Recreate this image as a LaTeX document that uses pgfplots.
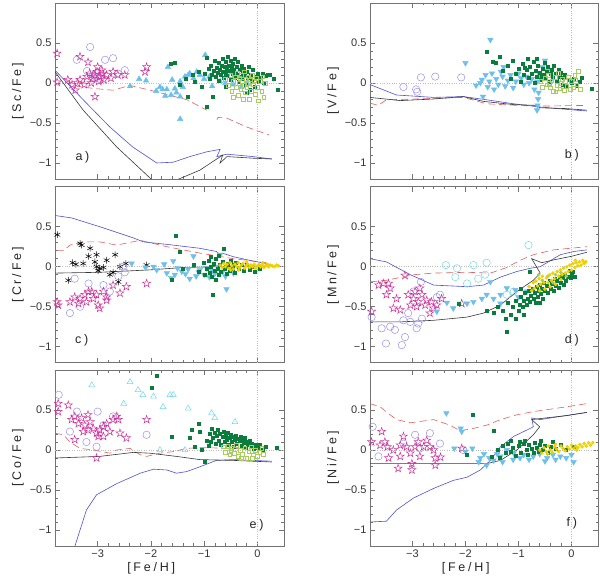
\documentclass[border=0pt]{standalone}
\usepackage{pgfplots}
\pgfplotsset{compat=1.18}
\usepackage{fontspec}
\setmainfont{Liberation Sans}
\newfontfamily\labfont[LetterSpace=22]{Liberation Sans}
\definecolor{magstar}{HTML}{CC3399}
\definecolor{lav}{HTML}{9B8FEA}
\definecolor{lblue}{HTML}{6EC0EA}
\definecolor{dgreen}{HTML}{0A7D3C}
\definecolor{lgreen}{HTML}{A8CB62}
\definecolor{yel}{HTML}{EED200}
\definecolor{cyanc}{HTML}{70D8EA}
\definecolor{redl}{HTML}{E06060}
\definecolor{bluel}{HTML}{5050D8}
\definecolor{blackl}{HTML}{383838}
\pgfdeclareplotmark{ostar}{%
 \pgfpathmoveto{\pgfqpoint{0pt}{\pgfplotmarksize}}%
 \pgfpathlineto{\pgfpoint{-0.225\pgfplotmarksize}{0.309\pgfplotmarksize}}%
 \pgfpathlineto{\pgfpoint{-0.951\pgfplotmarksize}{0.309\pgfplotmarksize}}%
 \pgfpathlineto{\pgfpoint{-0.363\pgfplotmarksize}{-0.118\pgfplotmarksize}}%
 \pgfpathlineto{\pgfpoint{-0.588\pgfplotmarksize}{-0.809\pgfplotmarksize}}%
 \pgfpathlineto{\pgfpoint{0pt}{-0.382\pgfplotmarksize}}%
 \pgfpathlineto{\pgfpoint{0.588\pgfplotmarksize}{-0.809\pgfplotmarksize}}%
 \pgfpathlineto{\pgfpoint{0.363\pgfplotmarksize}{-0.118\pgfplotmarksize}}%
 \pgfpathlineto{\pgfpoint{0.951\pgfplotmarksize}{0.309\pgfplotmarksize}}%
 \pgfpathlineto{\pgfpoint{0.225\pgfplotmarksize}{0.309\pgfplotmarksize}}%
 \pgfpathclose
 \pgfusepathqstroke}
\pgfplotsset{
 panel/.style={
  scale only axis, width=229pt, height=176pt,
  xmin=-3.8, xmax=0.5, ymin=-1.2, ymax=1.0,
  xtick={-3,-2,-1,0}, ytick={-1,-0.5,0,0.5},
  yticklabels={−1,−0.5,0,0.5},
  minor x tick num=4, minor y tick num=4,
  tick align=inside, major tick length=5pt, minor tick length=2.5pt,
  axis line style={black!55}, tick style={black!55, line width=0.5pt},
  tick label style={font=\fontsize{11}{13}\selectfont, text=black!80},
  label style={font=\labfont\fontsize{12.5}{14}\selectfont, text=black!85},
  ylabel style={at={(axis description cs:-0.162,0.5)}, anchor=center},
  xlabel style={at={(axis description cs:0.42,-0.125)}, anchor=center},
  anchor=south west,
 },
 bottomx/.style={xticklabels={−3,−2,−1,0}, xlabel={[Fe/H]}},
 nox/.style={xticklabels={}},
 mstar/.style={only marks, mark=ostar, mark size=4.2pt, color=magstar, mark options={line width=0.5pt}},
 mcirc/.style={only marks, mark=o, mark size=3.7pt, color=lav, mark options={line width=0.5pt}},
 mtriu/.style={only marks, mark=triangle*, mark size=3.2pt, color=lblue},
 mtrid/.style={only marks, mark=triangle*, mark size=3.2pt, color=lblue, mark options={rotate=180}},
 mgreen/.style={only marks, mark=square*, mark size=1.5pt, color=dgreen},
 mlgreen/.style={only marks, mark=square, mark size=1.8pt, color=lgreen, mark options={line width=0.4pt}},
 myel/.style={only marks, mark=*, mark size=1.6pt, color=yel},
 mast/.style={only marks, mark=asterisk, mark size=3.4pt, color=black, mark options={line width=0.5pt}},
 mcyc/.style={only marks, mark=o, mark size=3.7pt, color=cyanc, mark options={line width=0.5pt}},
 mcyt/.style={only marks, mark=triangle, mark size=3.4pt, color=cyanc, mark options={line width=0.5pt}},
 lred/.style={no marks, color=redl, line width=0.6pt, dash pattern=on 7pt off 4pt},
 lblu/.style={no marks, color=bluel, line width=0.6pt},
 lblk/.style={no marks, color=blackl, line width=0.6pt},
}
\newcommand{\zerolines}{%
 \draw[black!25, dotted] (axis cs:0,-1.2) -- (axis cs:0,1.0);
 \draw[black!25, dotted] (axis cs:-3.8,0) -- (axis cs:0.5,0);}
\newcommand{\plab}[3]{\node[font=\labfont\fontsize{12.5}{14}\selectfont, text=black!85] at (rel axis cs:#1,#2) {#3};}
\begin{document}
\begin{tikzpicture}
\useasboundingbox (0,0) rectangle (600pt,581pt);
% ---------------- a) Sc
\begin{axis}[panel, nox, at={(55pt,402pt)}, ylabel={[Sc/Fe]}]
\zerolines
\addplot[mcirc] coordinates {(-3.39,0.29) (-3.14,0.45) (-2.86,0.29) (-2.71,0.31) (-2.49,0.16) (-3.01,0.08) (-2.95,0.05) (-3.08,0.1) (-2.62,0.12) (-3.2,0.15)};
\addplot[mstar] coordinates {(-3.76,0.37) (-3.76,0.01) (-3.56,0.04) (-3.48,-0.02) (-3.42,-0.09) (-3.33,0.04) (-3.33,0.33) (-3.18,0.26) (-3.2,0.08) (-3.05,-0.17) (-3.01,0.14) (-2.96,0.08) (-2.83,0.1) (-2.71,0.14) (-2.62,0.1) (-2.49,0.1) (-2.08,0.2) (-2.11,0.14) (-3.1,0.05) (-3.05,0.1) (-2.98,0.02) (-2.9,0.12) (-2.88,0.04) (-3.15,0.12) (-2.75,0.06) (-3.25,-0.02) (-3.38,0.0) (-3.0,0.2) (-2.92,0.16) (-3.12,0.0)};
\addplot[mtriu] coordinates {(-2.39,-0.04) (-2.22,0.05) (-2.09,0.03) (-1.9,-0.1) (-1.83,-0.05) (-1.78,-0.08) (-1.7,-0.08) (-1.68,0.2) (-1.6,0.04) (-1.55,-0.07) (-1.52,-0.12) (-1.45,-0.17) (-1.45,-0.45) (-1.45,0.02) (-1.4,-0.05) (-1.36,0.08) (-1.3,0.1) (-1.27,0.12) (-1.2,0.06) (-1.14,0.14) (-1.08,0.1) (-0.98,0.35) (-1.0,0.05) (-0.9,0.08) (-0.85,-0.04) (-0.7,0.02) (-0.6,0.0) (-0.45,-0.02) (-0.3,-0.05) (-0.2,0.0) (-1.73,-0.16) (-1.62,-0.15)};
\addplot[mgreen] coordinates {(-1.62,0.24) (-1.55,0.25) (-1.35,0.05) (-1.3,-0.17) (-1.22,0.1) (-1.18,0.02) (-1.1,0.14) (-1.05,-0.05) (-0.98,0.12) (-0.95,-0.3) (-0.92,0.18) (-0.9,0.05) (-0.88,0.22) (-0.85,0.1) (-0.83,-0.17) (-0.82,0.15) (-0.8,0.28) (-0.78,0.08) (-0.76,0.19) (-0.75,0.13) (-0.73,0.25) (-0.72,0.03) (-0.7,0.17) (-0.69,0.1) (-0.67,0.22) (-0.66,0.3) (-0.65,0.14) (-0.63,0.06) (-0.62,0.2) (-0.6,0.26) (-0.59,0.12) (-0.58,0.17) (-0.56,0.33) (-0.55,0.09) (-0.54,0.22) (-0.52,0.15) (-0.51,0.28) (-0.5,0.04) (-0.48,0.19) (-0.47,0.11) (-0.46,0.24) (-0.44,0.16) (-0.43,0.07) (-0.42,0.3) (-0.4,0.13) (-0.39,0.2) (-0.37,0.1) (-0.36,0.26) (-0.35,0.02) (-0.33,0.17) (-0.32,0.08) (-0.3,0.22) (-0.28,0.13) (-0.27,0.05) (-0.25,0.18) (-0.23,0.1) (-0.22,-0.02) (-0.2,0.14) (-0.18,0.06) (-0.16,0.2) (-0.14,-0.08) (-0.12,0.1) (-0.1,0.03) (-0.08,0.16) (-0.05,-0.05) (-0.03,0.08) (0.0,0.12) (0.03,0.02) (0.06,0.07) (0.1,0.12) (0.12,0.0) (0.15,0.09) (0.2,0.1) (0.24,0.1) (0.3,0.05) (0.39,-0.08) (-0.2,-0.12) (-0.6,-0.05) (-1.45,-0.02) (-0.95,0.32)};
\addplot[mlgreen] coordinates {(-0.6,0.05) (-0.55,-0.03) (-0.5,0.1) (-0.48,-0.1) (-0.45,0.02) (-0.42,0.08) (-0.4,-0.05) (-0.38,0.12) (-0.36,-0.15) (-0.35,0.0) (-0.33,0.06) (-0.31,-0.08) (-0.3,0.1) (-0.28,0.02) (-0.26,-0.03) (-0.25,0.14) (-0.23,-0.12) (-0.22,0.05) (-0.2,-0.06) (-0.18,0.08) (-0.17,0.0) (-0.15,-0.2) (-0.14,0.04) (-0.12,-0.1) (-0.1,0.1) (-0.08,-0.02) (-0.06,0.03) (-0.04,-0.14) (-0.02,0.06) (0.0,-0.05) (0.02,-0.22) (0.05,0.02) (0.08,-0.1) (0.12,-0.18) (0.15,0.0) (-0.27,-0.2) (-0.45,-0.18) (0.1,0.08)};
\addplot[lred] coordinates {(-3.6,0.05) (-3.39,-0.04) (-3.05,-0.07) (-2.71,-0.09) (-2.39,-0.03) (-1.89,-0.11) (-1.32,-0.21) (-0.95,-0.34)};
\addplot[lred] coordinates {(-0.76,-0.46) (-0.74,-0.43) (-0.57,-0.44) (-0.2,-0.55) (0.22,-0.65)};
\addplot[lblu] coordinates {(-3.8,0.16) (-3.27,-0.21) (-2.77,-0.55) (-2.34,-0.8) (-1.89,-1.0) (-1.58,-0.99) (-1.27,-0.92) (-0.95,-0.86) (-0.7,-0.83) (-0.76,-0.92) (-0.57,-0.89) (-0.08,-0.92) (0.27,-0.95)};
\addplot[lblk] coordinates {(-3.8,0.14) (-3.27,-0.34) (-2.64,-0.8) (-1.98,-1.21) (-1.9,-1.3) (-1.6,-1.3) (-1.51,-1.21) (-1.08,-1.09) (-0.65,-0.9) (-0.7,-1.0) (-0.57,-0.92) (-0.08,-0.94) (0.27,-0.95)};
\plab{0.12}{0.125}{a)}
\end{axis}
% ---------------- b) V
\begin{axis}[panel, nox, at={(370pt,402pt)}, width=228pt, ylabel={[V/Fe]}]
\zerolines
\addplot[mcirc] coordinates {(-3.17,-0.05) (-2.93,-0.08) (-2.91,-0.11) (-2.84,0.07) (-2.57,0.08) (-2.08,0.07)};
\addplot[mtrid] coordinates {(-2.0,0.25) (-1.53,0.54) (-1.69,0.04) (-1.67,-0.17) (-1.72,0.0) (-1.62,0.1) (-1.58,-0.05) (-1.55,0.02) (-1.5,0.12) (-1.46,-0.08) (-1.42,0.05) (-1.38,-0.02) (-1.33,0.14) (-1.3,0.08) (-1.25,-0.04) (-1.2,0.03) (-1.15,0.1) (-1.1,-0.06) (-1.05,0.02) (-1.0,0.12) (-0.95,0.06) (-0.9,-0.02) (-0.85,0.08) (-0.8,0.0) (-0.75,0.05) (-0.7,-0.08) (-0.65,0.02) (-0.6,0.1) (-0.55,0.2) (-0.5,0.28) (-0.45,0.15) (-0.65,-0.34) (-0.64,-0.28) (-0.63,-0.2) (-0.62,-0.12) (-0.4,0.02) (-1.8,-0.03) (-1.28,0.2)};
\addplot[mgreen] coordinates {(-1.6,0.39) (-1.48,0.27) (-1.36,0.33) (-1.42,0.25) (-1.3,0.15) (-1.2,0.22) (-1.15,0.05) (-1.1,0.28) (-1.05,0.12) (-1.0,0.18) (-0.95,0.02) (-0.92,0.24) (-0.9,0.1) (-0.85,0.16) (-0.82,0.3) (-0.8,0.06) (-0.78,0.2) (-0.75,0.12) (-0.72,0.26) (-0.7,0.0) (-0.68,0.15) (-0.65,0.08) (-0.63,0.22) (-0.6,0.13) (-0.58,0.04) (-0.55,0.18) (-0.53,0.1) (-0.5,0.25) (-0.48,0.06) (-0.46,0.14) (-0.44,0.2) (-0.42,0.02) (-0.4,0.11) (-0.38,0.17) (-0.35,0.07) (-0.33,0.22) (-0.3,0.12) (-0.28,0.03) (-0.25,0.16) (-0.22,0.08) (-0.2,0.13) (-0.17,-0.02) (-0.15,0.06) (-0.12,0.1) (-0.1,-0.04) (-0.05,0.04) (0.0,0.0) (0.05,0.05) (0.1,-0.04) (0.15,0.02) (0.2,0.06) (0.39,-0.07) (-0.66,0.3) (-0.88,0.19) (-0.56,0.09)};
\addplot[mlgreen] coordinates {(-0.58,0.02) (-0.55,-0.05) (-0.5,0.06) (-0.47,-0.02) (-0.44,0.1) (-0.4,-0.06) (-0.37,0.03) (-0.34,-0.1) (-0.31,0.07) (-0.28,-0.03) (-0.25,0.12) (-0.22,-0.07) (-0.2,0.0) (-0.17,0.05) (-0.14,-0.09) (-0.12,0.02) (-0.09,-0.04) (-0.06,0.08) (-0.03,-0.08) (0.0,0.02) (0.03,-0.06) (0.06,0.1) (0.1,-0.02) (0.13,0.15) (0.16,-0.08) (-0.3,-0.11) (-0.42,0.0) (0.08,0.04)};
\addplot[lred] coordinates {(-3.8,-0.25) (-3.65,-0.28) (-3.49,-0.21) (-2.93,-0.2) (-2.04,-0.18) (-1.6,-0.26) (-0.72,-0.29) (0.29,-0.28)};
\addplot[lblu] coordinates {(-3.8,-0.02) (-3.3,-0.15) (-2.6,-0.18) (-2.04,-0.17) (-1.6,-0.21) (-1.09,-0.26) (-0.59,-0.3) (-0.09,-0.33) (0.29,-0.35)};
\addplot[lblk] coordinates {(-3.8,-0.18) (-3.23,-0.22) (-2.6,-0.2) (-2.04,-0.17) (-1.66,-0.23) (-1.09,-0.27) (-0.65,-0.28) (-0.59,-0.31) (-0.09,-0.32) (0.29,-0.34)};
\plab{0.885}{0.136}{b)}
\end{axis}
% ---------------- c) Cr
\begin{axis}[panel, nox, at={(55pt,218.3pt)}, ylabel={[Cr/Fe]}]
\zerolines
\addplot[mast] coordinates {(-3.757,0.40) (-3.33,0.29) (-3.30,0.27) (-3.14,0.23) (-3.47,0.05) (-3.41,0.03) (-3.27,0.04) (-3.17,0.13) (-3.02,0.15) (-3.05,0.06) (-3.02,0.0) (-2.99,-0.05) (-2.96,-0.02) (-2.89,-0.01) (-2.83,0.08) (-2.67,0.15) (-2.77,-0.1) (-2.71,-0.07) (-2.58,0.0) (-2.47,0.04) (-2.61,-0.19) (-3.55,-0.17) (-2.08,0.02)};
\addplot[mcirc] coordinates {(-3.43,-0.15) (-3.52,-0.58) (-3.17,-0.21) (-2.89,-0.23) (-2.77,-0.31) (-3.33,-0.5) (-2.49,-0.07) (-2.61,-0.12) (-2.52,0.0)};
\addplot[mstar] coordinates {(-3.76,-0.44) (-3.74,-0.48) (-3.52,-0.44) (-3.43,-0.38) (-3.33,-0.40) (-3.24,-0.35) (-3.21,-0.44) (-3.11,-0.31) (-3.08,-0.40) (-3.02,-0.35) (-2.99,-0.48) (-2.96,-0.52) (-2.89,-0.31) (-2.83,-0.38) (-2.83,-0.42) (-2.71,-0.23) (-2.58,-0.33) (-2.46,-0.25) (-2.08,-0.21) (-3.36,-0.46) (-3.17,-0.31)};
\addplot[mtrid] coordinates {(-2.36,0.04) (-1.89,-0.04) (-1.58,0.07) (-1.42,-0.06) (-1.27,-0.15) (-1.2,0.13) (-1.08,-0.04) (-0.7,0.15) (-0.58,-0.28) (-1.7,-0.08) (-1.55,-0.1) (-1.5,-0.02) (-1.35,-0.09) (-1.3,-0.03) (-1.15,-0.12) (-1.1,-0.07) (-1.0,-0.1) (-0.95,-0.02) (-0.9,-0.13) (-0.85,-0.05) (-0.8,-0.09) (-0.75,0.0) (-0.65,-0.06) (-0.6,-0.12) (-0.5,-0.03) (-0.45,-0.08) (-2.1,-0.01) (-1.95,0.0) (-1.75,0.03) (-1.62,-0.14)};
\addplot[mgreen] coordinates {(-1.53,0.39) (-1.45,0.19) (-0.64,0.22) (-0.83,-0.35) (-1.6,-0.16) (-1.4,-0.03) (-1.2,0.02) (-1.1,-0.06) (-1.0,0.05) (-0.98,-0.1) (-0.95,-0.03) (-0.92,0.08) (-0.9,-0.08) (-0.87,0.0) (-0.85,-0.12) (-0.82,0.04) (-0.8,-0.05) (-0.78,0.1) (-0.75,-0.02) (-0.72,-0.1) (-0.7,0.03) (-0.68,-0.06) (-0.65,0.06) (-0.62,-0.03) (-0.6,0.0) (-0.58,-0.09) (-0.55,0.04) (-0.52,-0.05) (-0.5,0.07) (-0.47,-0.02) (-0.45,0.02) (-0.42,-0.07) (-0.4,0.05) (-0.35,-0.03) (-0.3,0.02) (-0.25,-0.05) (-0.2,0.03) (-0.15,-0.04) (-0.1,0.0) (-0.05,-0.06) (0.05,-0.03) (-0.88,0.12) (-0.72,0.14) (-0.78,-0.16)};
\addplot[myel] coordinates {(-0.7,0.02) (-0.66,-0.01) (-0.63,0.04) (-0.6,0.0) (-0.57,0.03) (-0.54,-0.02) (-0.51,0.05) (-0.48,0.01) (-0.45,-0.03) (-0.42,0.03) (-0.39,0.0) (-0.36,0.05) (-0.33,-0.01) (-0.3,0.02) (-0.27,0.04) (-0.24,-0.02) (-0.21,0.01) (-0.18,0.03) (-0.15,-0.01) (-0.12,0.02) (-0.09,0.0) (-0.06,0.03) (-0.03,-0.02) (0.0,0.01) (0.03,0.03) (0.06,0.0) (0.09,0.02) (0.12,-0.01) (0.15,0.01) (0.18,0.03) (0.21,0.0) (0.24,0.02) (0.28,0.01) (0.32,0.0) (0.36,0.02) (0.4,0.01) (-0.5,-0.04) (-0.35,-0.04) (-0.2,0.06) (0.1,0.05)};
\addplot[lred] coordinates {(-3.77,0.2) (-3.64,0.2) (-3.52,0.27) (-3.27,0.31) (-2.96,0.31) (-2.64,0.27) (-2.2,0.33) (-1.7,0.25) (-1.08,0.17) (-0.45,0.1) (0.17,0.05)};
\addplot[lblu] coordinates {(-3.8,0.64) (-3.49,0.61) (-2.96,0.5) (-2.33,0.36) (-2.14,0.31) (-1.71,0.28) (-1.08,0.23) (-0.77,0.19) (-0.7,0.15) (-0.66,0.17) (-0.45,0.125) (-0.08,0.07) (0.17,0.04) (0.27,0.02)};
\addplot[lblk] coordinates {(-3.8,-0.08) (-2.96,-0.07) (-2.02,-0.04) (-1.39,-0.01) (-0.77,0.0) (0.17,0.01)};
\plab{0.117}{0.13}{c)}
\end{axis}
% ---------------- d) Mn
\begin{axis}[panel, nox, at={(370pt,218.3pt)}, width=228pt, ylabel={[Mn/Fe]}]
\zerolines
\addplot[mcirc] coordinates {(-3.77,-0.63) (-3.58,-0.77) (-3.5,-0.96) (-3.42,-0.75) (-3.33,-0.79) (-3.17,-0.67) (-3.14,-0.88) (-3.2,-0.98) (-3.08,-0.58) (-3.04,-0.69) (-2.92,-0.77) (-2.89,-0.71) (-2.84,-0.19) (-2.82,-0.65) (-2.98,-0.31) (-2.54,-0.38) (-2.48,-0.35)};
\addplot[mstar] coordinates {(-3.77,-0.56) (-3.64,-0.23) (-3.55,-0.21) (-3.45,-0.21) (-3.42,-0.27) (-3.49,-0.35) (-3.3,-0.4) (-3.36,-0.52) (-3.23,-0.54) (-3.14,-0.11) (-3.08,-0.35) (-3.04,-0.48) (-2.98,-0.40) (-2.95,-0.31) (-2.89,-0.44) (-2.86,-0.27) (-2.82,-0.35) (-2.76,-0.48) (-2.73,-0.42) (-2.64,-0.44) (-2.6,-0.52) (-2.54,-0.48) (-2.67,-0.58) (-2.45,-0.4) (-2.92,-0.5) (-2.07,-0.46)};
\addplot[mcyc] coordinates {(-2.37,0.02) (-2.16,-0.02) (-2.19,-0.13) (-1.85,0.02) (-1.97,-0.21) (-1.76,-0.15) (-1.6,0.05) (-1.63,-0.1) (-1.09,-0.31) (-0.81,0.27) (-1.22,-0.35)};
\addplot[mtrid] coordinates {(-2.54,-0.56) (-2.35,-0.45) (-2.23,-0.52) (-1.97,-0.46) (-1.85,-0.44) (-1.69,-0.4) (-1.53,-0.19) (-1.6,-0.35) (-1.47,-0.40) (-1.34,-0.35) (-1.34,-0.46) (-1.22,-0.27) (-1.06,-0.29) (-1.0,-0.38) (-0.84,-0.31)};
\addplot[mgreen] coordinates {(-2.13,-0.46) (-1.47,-0.58) (-1.22,-0.81) (-1.25,-0.65) (-0.78,-0.06) (-1.6,-0.55) (-1.4,-0.5) (-1.3,-0.55) (-1.2,-0.45) (-1.15,-0.6) (-1.1,-0.5) (-1.05,-0.42) (-1.0,-0.55) (-0.98,-0.47) (-0.95,-0.38) (-0.92,-0.5) (-0.9,-0.43) (-0.88,-0.33) (-0.85,-0.47) (-0.83,-0.4) (-0.8,-0.3) (-0.78,-0.44) (-0.76,-0.36) (-0.74,-0.28) (-0.72,-0.4) (-0.7,-0.33) (-0.68,-0.45) (-0.66,-0.25) (-0.64,-0.37) (-0.62,-0.3) (-0.6,-0.22) (-0.58,-0.34) (-0.56,-0.27) (-0.54,-0.4) (-0.52,-0.2) (-0.5,-0.3) (-0.47,-0.24) (-0.44,-0.33) (-0.42,-0.18) (-0.4,-0.27) (-0.37,-0.21) (-0.34,-0.3) (-0.32,-0.15) (-0.3,-0.24) (-0.27,-0.18) (-0.24,-0.26) (-0.22,-0.12) (-0.2,-0.2) (-0.17,-0.14) (-0.14,-0.22) (-0.12,-0.1) (-0.1,-0.17) (-0.07,-0.12) (-0.04,-0.05) (-0.02,-0.14) (0.0,-0.09) (0.03,-0.06) (0.06,-0.12) (-0.9,-0.6) (-1.05,-0.65) (-0.6,-0.45) (-0.95,-0.28)};
\addplot[only marks, mark=*, mark size=1.6pt, color=lgreen] coordinates {(-0.55,-0.17) (-0.45,-0.12) (-0.35,-0.2) (-0.3,-0.1) (-0.2,-0.07) (-0.1,-0.12) (-0.62,-0.1)};
\addplot[myel] coordinates {(-0.8,-0.25) (-0.75,-0.3) (-0.72,-0.2) (-0.7,-0.27) (-0.67,-0.18) (-0.64,-0.24) (-0.61,-0.15) (-0.58,-0.22) (-0.55,-0.12) (-0.52,-0.2) (-0.5,-0.28) (-0.47,-0.14) (-0.44,-0.2) (-0.41,-0.1) (-0.38,-0.17) (-0.35,-0.08) (-0.32,-0.15) (-0.3,-0.22) (-0.27,-0.06) (-0.24,-0.12) (-0.21,-0.04) (-0.18,-0.1) (-0.15,-0.02) (-0.12,-0.08) (-0.09,0.0) (-0.06,-0.06) (-0.03,0.02) (0.0,-0.04) (0.03,0.04) (0.06,-0.01) (0.09,0.05) (0.12,0.01) (0.15,0.06) (0.18,0.02) (0.21,0.08) (0.24,0.04) (0.27,0.06) (0.07,0.08) (0.23,0.06) (-0.6,-0.3) (-0.4,-0.25) (-0.2,-0.16)};
\addplot[lred] coordinates {(-3.8,-0.19) (-3.49,-0.17) (-2.98,-0.1) (-2.6,-0.08) (-1.97,-0.07) (-1.53,-0.08) (-1.22,-0.01) (-0.97,0.08) (-0.72,0.15) (-0.34,0.21) (0.29,0.25)};
\addplot[lblu] coordinates {(-3.8,0.1) (-3.49,0.06) (-3.04,-0.1) (-2.6,-0.23) (-1.97,-0.25) (-1.66,-0.23) (-1.34,-0.13) (-1.03,-0.06) (-0.78,-0.02) (-0.59,0.0) (-0.21,0.15) (0.04,0.19) (0.29,0.21)};
\addplot[lblk] coordinates {(-3.8,-0.69) (-3.23,-0.69) (-2.6,-0.67) (-1.97,-0.63) (-1.66,-0.58) (-1.34,-0.48) (-1.03,-0.31) (-0.72,-0.17) (-0.59,-0.08) (-0.75,0.1) (-0.56,0.05) (-0.3,0.09) (0.0,0.13) (0.29,0.18)};
\plab{0.885}{0.13}{d)}
\end{axis}
% ---------------- e) Co
\begin{axis}[panel, bottomx, at={(55pt,35pt)}, ylabel={[Co/Fe]}]
\zerolines
\addplot[mcyt] coordinates {(-3.11,0.81) (-2.39,0.85) (-2.24,0.75) (-2.15,0.69) (-1.95,0.67) (-2.51,0.58) (-1.77,0.54) (-1.64,0.69) (-1.58,0.69) (-1.3,0.52) (-0.86,0.46) (-0.8,0.4) (-0.42,0.35) (-1.83,0.0) (-1.36,0.0)};
\addplot[mcirc] coordinates {(-3.73,0.69) (-3.52,0.23) (-3.39,0.48) (-3.21,0.1) (-3.0,0.48) (-3.02,0.04) (-2.71,0.42) (-2.08,0.19) (-2.89,0.31)};
\addplot[mstar] coordinates {(-3.74,0.58) (-3.74,0.48) (-3.55,0.56) (-3.49,0.38) (-3.43,0.42) (-3.36,0.33) (-3.3,0.4) (-3.24,0.31) (-3.18,0.44) (-3.14,0.35) (-3.27,0.23) (-3.08,0.27) (-3.02,0.21) (-2.99,0.17) (-2.96,0.25) (-2.89,0.29) (-2.83,0.33) (-2.77,0.23) (-2.71,0.38) (-2.64,0.42) (-2.61,0.38) (-2.58,0.21) (-2.46,0.15) (-2.08,0.38) (-3.43,0.13) (-3.02,-0.1) (-2.89,0.17) (-3.18,0.25)};
\addplot[mgreen] coordinates {(-1.89,0.93) (-1.99,0.78) (-1.61,0.17) (-1.23,0.25) (-1.11,0.33) (-1.08,0.23) (-1.27,0.15) (-1.17,0.04) (-1.05,0.0) (-0.98,-0.15) (0.36,0.03) (-0.9,0.2) (-0.88,0.1) (-0.85,0.27) (-0.83,0.15) (-0.8,0.22) (-0.78,0.08) (-0.76,0.18) (-0.74,0.25) (-0.72,0.12) (-0.7,0.2) (-0.68,0.06) (-0.66,0.16) (-0.64,0.23) (-0.62,0.1) (-0.6,0.18) (-0.58,0.13) (-0.56,0.21) (-0.54,0.07) (-0.52,0.15) (-0.5,0.19) (-0.48,0.1) (-0.46,0.16) (-0.44,0.04) (-0.42,0.13) (-0.4,0.18) (-0.38,0.08) (-0.36,0.14) (-0.34,0.11) (-0.32,0.17) (-0.3,0.05) (-0.28,0.12) (-0.26,0.09) (-0.24,0.15) (-0.22,0.03) (-0.2,0.1) (-0.18,0.07) (-0.15,0.12) (-0.12,0.04) (-0.1,0.08) (-0.07,0.02) (-0.04,0.06) (0.0,0.03) (0.05,0.07) (0.1,0.0) (0.15,0.04) (-0.95,0.12) (-0.92,0.05)};
\addplot[mlgreen] coordinates {(-0.64,0.04) (-0.6,-0.03) (-0.56,0.05) (-0.52,-0.06) (-0.48,0.02) (-0.44,-0.04) (-0.4,0.06) (-0.36,-0.08) (-0.32,0.0) (-0.28,-0.05) (-0.24,0.03) (-0.2,-0.1) (-0.16,-0.02) (-0.12,0.04) (-0.08,-0.06) (-0.04,0.0) (0.0,-0.08) (0.04,-0.03) (0.08,0.02) (0.11,-0.05) (-0.3,-0.1) (-0.5,0.0) (-0.1,-0.1)};
\addplot[lred] coordinates {(-3.8,0.21) (-3.64,0.19) (-3.52,0.1) (-3.33,0.02) (-3.08,0.0) (-2.77,-0.04) (-2.64,0.0) (-2.39,0.02) (-2.2,-0.06) (-2.08,-0.08) (-1.83,-0.04) (-1.58,-0.02) (-1.33,0.02) (-1.08,0.03) (-0.45,0.02) (0.17,0.0)};
\addplot[lblu] coordinates {(-3.47,-1.3) (-3.43,-1.21) (-3.21,-0.75) (-3.02,-0.56) (-2.64,-0.42) (-2.2,-0.29) (-1.95,-0.24) (-1.7,-0.25) (-1.52,-0.29) (-1.33,-0.27) (-1.08,-0.21) (-0.77,-0.13) (-0.45,-0.12) (0.27,-0.14)};
\addplot[lblk] coordinates {(-3.8,-0.1) (-2.96,-0.08) (-2.33,-0.03) (-2.02,-0.04) (-1.52,-0.08) (-1.08,-0.12) (-0.45,-0.13) (0.27,-0.15)};
\plab{0.88}{0.12}{e)}
\end{axis}
% ---------------- f) Ni
\begin{axis}[panel, bottomx, at={(370pt,35pt)}, width=228pt, ylabel={[Ni/Fe]}]
\zerolines
\addplot[mcirc] coordinates {(-3.75,0.29) (-3.64,-0.08) (-3.17,0.08) (-2.95,0.19) (-2.67,0.21) (-2.48,0.08) (-2.86,0.02) (-2.04,0.0)};
\addplot[mstar] coordinates {(-3.77,0.1) (-3.58,0.23) (-3.47,0.04) (-3.45,-0.1) (-3.36,0.0) (-3.23,0.06) (-3.17,0.17) (-3.11,0.04) (-3.27,-0.23) (-3.04,-0.04) (-3.01,-0.17) (-3.01,-0.25) (-2.95,0.04) (-2.89,0.1) (-2.86,-0.08) (-2.79,0.04) (-2.73,0.12) (-2.67,0.04) (-2.6,0.0) (-2.57,-0.1) (-2.47,-0.09) (-2.57,-0.19) (-2.07,0.02) (-3.61,0.06) (-3.52,0.1) (-3.23,-0.08)};
\addplot[mtrid] coordinates {(-2.36,0.46) (-2.09,0.27) (-2.07,0.23) (-2.21,0.02) (-2.0,-0.02) (-1.87,0.02) (-1.72,-0.1) (-1.6,-0.19) (-1.47,-0.13) (-1.34,-0.08) (-1.22,0.0) (-1.09,-0.04) (-0.97,-0.1) (-0.72,-0.08) (-0.46,-0.1) (-0.21,-0.08) (0.04,-0.15) (-0.9,-0.06) (-0.8,-0.12) (-0.6,-0.05) (-0.5,-0.14) (-0.35,-0.06) (-0.3,-0.12) (-0.1,-0.1) (0.0,-0.06) (-1.3,-0.15) (-1.4,-0.05) (-1.55,-0.1) (-1.65,-0.05) (-1.75,-0.15) (-1.1,-0.12)};
\addplot[mgreen] coordinates {(-1.86,0.44) (-1.97,-0.06) (-1.46,0.24) (-0.97,0.1) (-1.5,-0.08) (-1.4,0.0) (-1.35,-0.1) (-1.3,0.05) (-1.25,-0.04) (-1.2,0.08) (-1.15,-0.02) (-1.1,0.03) (-1.05,-0.07) (-1.0,0.05) (-0.95,-0.03) (-0.9,0.08) (-0.85,0.0) (-0.82,-0.06) (-0.8,0.06) (-0.75,0.02) (-0.72,-0.04) (-0.7,0.09) (-0.65,0.03) (-0.62,-0.02) (-0.6,0.07) (-0.55,0.0) (-0.5,0.05) (-0.45,-0.03) (-0.4,0.04) (-0.35,0.1) (-0.3,0.01) (-0.2,0.06) (-0.1,0.0) (0.05,0.04) (-1.15,0.12) (-0.88,0.12) (-0.58,0.11)};
\addplot[myel] coordinates {(-0.6,0.0) (-0.56,-0.04) (-0.52,0.03) (-0.48,-0.02) (-0.44,0.05) (-0.4,0.0) (-0.36,-0.03) (-0.32,0.04) (-0.28,0.01) (-0.24,-0.02) (-0.2,0.05) (-0.16,0.02) (-0.12,-0.01) (-0.08,0.04) (-0.04,0.01) (0.0,0.06) (0.04,0.02) (0.08,0.05) (0.12,0.03) (0.16,0.07) (0.2,0.04) (0.24,0.08) (0.28,0.05) (0.32,0.09) (0.36,0.06) (0.4,0.09) (-0.3,0.07) (0.1,0.0) (-0.45,-0.05)};
\addplot[lred] coordinates {(-3.8,0.58) (-3.61,0.54) (-3.42,0.44) (-3.3,0.38) (-3.04,0.34) (-2.6,0.38) (-2.29,0.31) (-2.1,0.24) (-1.85,0.27) (-1.6,0.31) (-1.34,0.38) (-1.03,0.44) (-0.72,0.48) (-0.09,0.54) (0.29,0.58)};
\addplot[lblu] coordinates {(-3.8,-0.9) (-3.49,-0.89) (-3.3,-0.75) (-2.98,-0.6) (-2.6,-0.48) (-2.23,-0.38) (-1.97,-0.34) (-1.72,-0.25) (-1.53,-0.13) (-1.34,0.04) (-1.09,0.17) (-0.84,0.25) (-0.72,0.29) (-0.75,0.4) (-0.59,0.38) (-0.21,0.42) (0.29,0.47)};
\addplot[lblk] coordinates {(-3.8,-0.17) (-2.6,-0.17) (-1.97,-0.17) (-1.6,-0.17) (-1.34,-0.13) (-1.03,0.0) (-0.72,0.19) (-0.6,0.29) (-0.75,0.38) (-0.5,0.4) (-0.09,0.43) (0.29,0.47)};
\plab{0.885}{0.13}{f)}
\end{axis}
\end{tikzpicture}
\end{document}
